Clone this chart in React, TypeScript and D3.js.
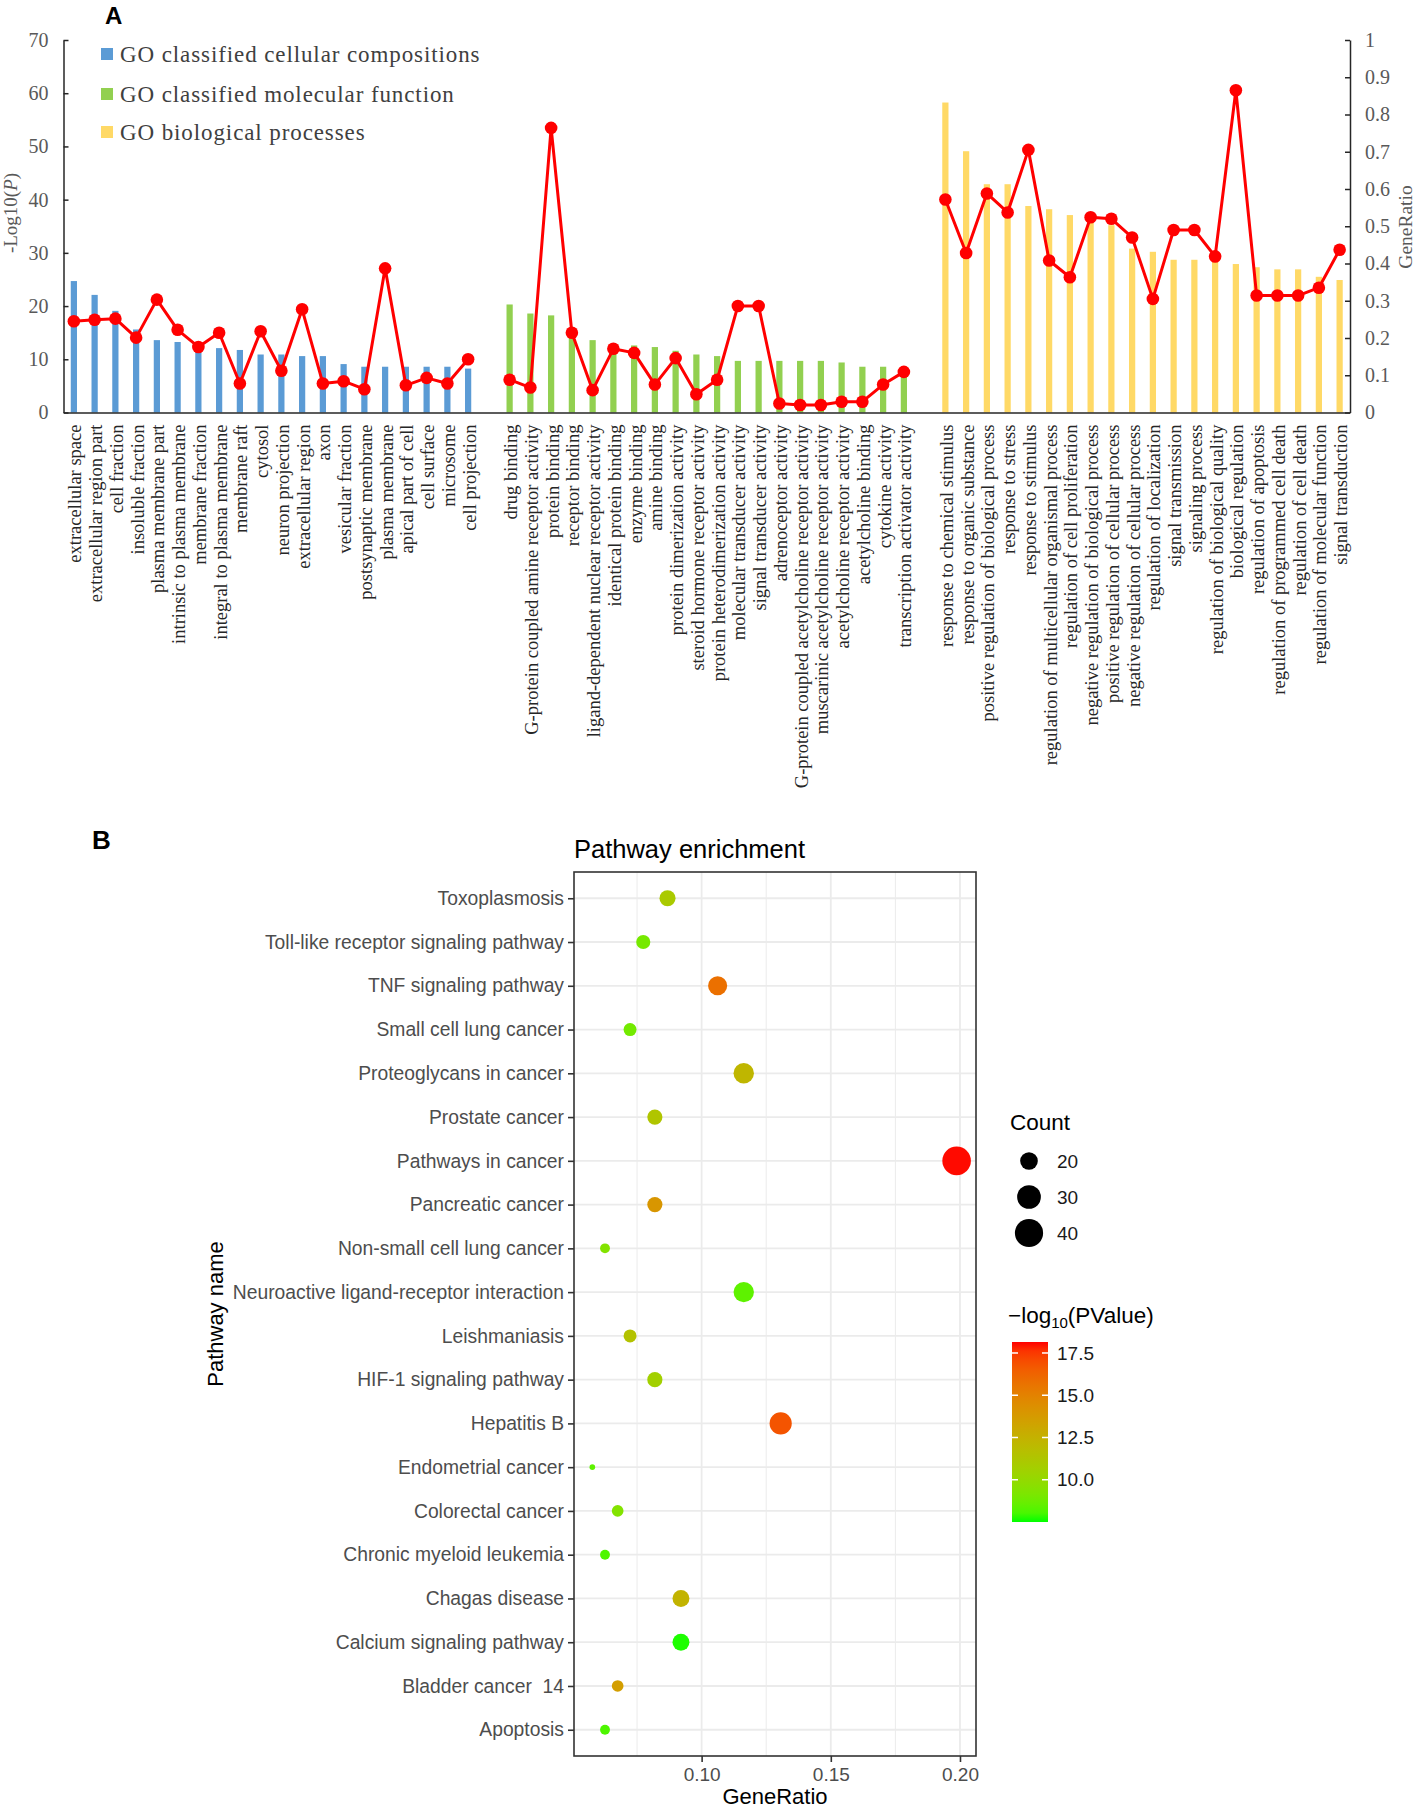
import { useEffect, useRef } from 'react';
import * as d3 from 'd3';

// Panel A: GO classification
const ccTerms = [
  'extracellular space', 'extracellular region part', 'cell fraction', 'insoluble fraction',
  'plasma membrane part', 'intrinsic to plasma membrane', 'membrane fraction',
  'integral to plasma membrane', 'membrane raft', 'cytosol', 'neuron projection',
  'extracellular region', 'axon', 'vesicular fraction', 'postsynaptic membrane',
  'plasma membrane', 'apical part of cell', 'cell surface', 'microsome', 'cell projection',
];
const ccLogP = [24.7, 22.1, 19.1, 15.6, 13.6, 13.25, 12.5, 12.1, 11.75, 10.9, 10.9, 10.6, 10.6, 9.1, 8.6, 8.6, 8.6, 8.6, 8.6, 8.25];
const ccRatio = [0.245, 0.249, 0.252, 0.201, 0.303, 0.222, 0.176, 0.214, 0.078, 0.218, 0.112, 0.277, 0.078, 0.084, 0.0625, 0.387, 0.073, 0.093, 0.078, 0.143];

const mfTerms = [
  'drug binding', 'G-protein coupled amine receptor activity', 'protein binding', 'receptor binding',
  'ligand-dependent nuclear receptor activity', 'identical protein binding', 'enzyme binding',
  'amine binding', 'protein dimerization activity', 'steroid hormone receptor activity',
  'protein heterodimerization activity', 'molecular transducer activity', 'signal transducer activity',
  'adrenoceptor activity', 'G-protein coupled acetylcholine receptor activity',
  'muscarinic acetylcholine receptor activity', 'acetylcholine receptor activity',
  'acetylcholine binding', 'cytokine activity', 'transcription activator activity',
];
const mfLogP = [20.3, 18.6, 18.25, 14.2, 13.6, 12.8, 12.6, 12.3, 11.6, 10.9, 10.6, 9.7, 9.7, 9.7, 9.7, 9.7, 9.4, 8.6, 8.6, 8.0];
const mfRatio = [0.088, 0.067, 0.764, 0.214, 0.06, 0.171, 0.16, 0.075, 0.146, 0.049, 0.088, 0.286, 0.286, 0.024, 0.02, 0.02, 0.029, 0.029, 0.075, 0.109];

const bpTerms = [
  'response to chemical stimulus', 'response to organic substance',
  'positive regulation of biological process', 'response to stress', 'response to stimulus',
  'regulation of multicellular organismal process', 'regulation of cell proliferation',
  'negative regulation of biological process', 'positive regulation of cellular process',
  'negative regulation of cellular process', 'regulation of localization', 'signal transmission',
  'signaling process', 'regulation of biological quality', 'biological regulation',
  'regulation of apoptosis', 'regulation of programmed cell death', 'regulation of cell death',
  'regulation of molecular function', 'signal transduction',
];
const bpLogP = [58.25, 49.1, 42.9, 42.9, 38.8, 38.2, 37.1, 36.2, 35.2, 30.8, 30.2, 28.7, 28.7, 28.8, 27.9, 27.3, 26.9, 26.9, 25.5, 24.9];
const bpRatio = [0.572, 0.428, 0.588, 0.537, 0.705, 0.408, 0.363, 0.524, 0.52, 0.47, 0.305, 0.49, 0.49, 0.419, 0.865, 0.314, 0.314, 0.314, 0.335, 0.437];

const goGroups = [
  { name: 'GO classified cellular compositions', color: '#5b9bd5', terms: ccTerms, logP: ccLogP, ratio: ccRatio },
  { name: 'GO classified molecular function', color: '#92d050', terms: mfTerms, logP: mfLogP, ratio: mfRatio },
  { name: 'GO biological processes', color: '#ffd966', terms: bpTerms, logP: bpLogP, ratio: bpRatio },
];
const leftTicks = [0, 10, 20, 30, 40, 50, 60, 70];
const rightTicks = [0, 0.1, 0.2, 0.3, 0.4, 0.5, 0.6, 0.7, 0.8, 0.9, 1];

// Panel B: KEGG pathway enrichment
const pathways = [
  'Toxoplasmosis', 'Toll-like receptor signaling pathway', 'TNF signaling pathway',
  'Small cell lung cancer', 'Proteoglycans in cancer', 'Prostate cancer', 'Pathways in cancer',
  'Pancreatic cancer', 'Non-small cell lung cancer', 'Neuroactive ligand-receptor interaction',
  'Leishmaniasis', 'HIF-1 signaling pathway', 'Hepatitis B', 'Endometrial cancer',
  'Colorectal cancer', 'Chronic myeloid leukemia', 'Chagas disease', 'Calcium signaling pathway',
  'Bladder cancer  14', 'Apoptosis',
];
const pathRatio = [0.0868, 0.0774, 0.1062, 0.0723, 0.1163, 0.0819, 0.1987, 0.0819, 0.0626, 0.1163, 0.0723, 0.0819, 0.1306, 0.0577, 0.0675, 0.0626, 0.092, 0.092, 0.0675, 0.0626];
const pathCount = [18, 16, 22, 15, 24, 17, 41, 17, 13, 24, 15, 17, 27, 12, 14, 13, 19, 19, 14, 13];
const pathLogP = [11.0, 9.0, 15.8, 8.9, 12.2, 11.3, 18.1, 14.0, 9.4, 8.4, 11.5, 10.6, 16.8, 8.4, 9.4, 8.1, 12.4, 7.6, 13.6, 8.1];
const ratioTicks = [0.1, 0.15, 0.2];
const ratioMinor = [0.075, 0.125, 0.175];
const countLegend = [20, 30, 40];
const pvalTicks = [10, 12.5, 15, 17.5];

const W = 1418;
const H = 1812;
const SERIF = '"Liberation Serif", "Times New Roman", serif';
const SANS = '"Liberation Sans", Arial, sans-serif';

type Slot = { term: string; logP: number; ratio: number; color: string } | null;

function drawGo(g: d3.Selection<SVGGElement, unknown, null, undefined>) {
  const slots: Slot[] = [];
  goGroups.forEach((grp, gi) => {
    if (gi > 0) slots.push(null);
    grp.terms.forEach((t, i) => slots.push({ term: t, logP: grp.logP[i], ratio: grp.ratio[i], color: grp.color }));
  });

  const left = 63.5, right = 1350, top = 40, bottom = 412.5;
  const x = d3.scaleBand<number>()
    .domain(d3.range(slots.length))
    .range([left, right])
    .paddingInner(0.7)
    .paddingOuter(0.35);
  const cx = (i: number) => (x(i) as number) + x.bandwidth() / 2;
  const yL = d3.scaleLinear().domain([0, 70]).range([bottom, top]);
  const yR = d3.scaleLinear().domain([0, 1]).range([bottom, top]);

  g.append('text')
    .attr('x', 105).attr('y', 24)
    .attr('font-family', SANS).attr('font-weight', 'bold').attr('font-size', 24)
    .text('A');

  // bars
  g.append('g').selectAll('rect')
    .data(slots.map((s, i) => ({ s, i })).filter(d => d.s))
    .join('rect')
    .attr('x', d => x(d.i) as number)
    .attr('width', x.bandwidth())
    .attr('y', d => yL(d.s!.logP))
    .attr('height', d => bottom - yL(d.s!.logP))
    .attr('fill', d => d.s!.color);

  // axes
  const axL = g.append('g')
    .attr('transform', `translate(${left},0)`)
    .call(d3.axisLeft(yL).tickValues(leftTicks).tickSizeInner(-5).tickSizeOuter(0).tickPadding(15).tickFormat(d3.format('d')));
  axL.select('.domain').attr('stroke', '#262626').attr('stroke-width', 1.5);
  axL.selectAll('line').attr('stroke', '#262626').attr('stroke-width', 1.5);
  axL.selectAll('text').attr('font-family', SERIF).attr('font-size', 20).attr('fill', '#595959');

  const axR = g.append('g')
    .attr('transform', `translate(${right},0)`)
    .call(d3.axisRight(yR).tickValues(rightTicks).tickSizeInner(-5).tickSizeOuter(0).tickPadding(15).tickFormat(d => d3.format('')(+(+d).toFixed(1))));
  axR.select('.domain').attr('stroke', '#262626').attr('stroke-width', 1.5);
  axR.selectAll('line').attr('stroke', '#262626').attr('stroke-width', 1.5);
  axR.selectAll('text').attr('font-family', SERIF).attr('font-size', 20).attr('fill', '#595959');

  const axB = g.append('g')
    .attr('transform', `translate(0,${bottom})`)
    .call(d3.axisBottom(x).tickValues([]).tickSizeOuter(0));
  axB.select('.domain').attr('stroke', '#262626').attr('stroke-width', 1.5);

  // category labels
  g.append('g').selectAll('text')
    .data(slots.map((s, i) => ({ s, i })).filter(d => d.s))
    .join('text')
    .attr('transform', d => `translate(${cx(d.i) + 1},${bottom + 12}) rotate(-90)`)
    .attr('text-anchor', 'end')
    .attr('dy', '0.35em')
    .attr('font-family', SERIF)
    .attr('font-size', 18.5)
    .attr('fill', '#262626')
    .text(d => d.s!.term);

  // axis titles
  const lt = g.append('text')
    .attr('transform', `translate(17,213) rotate(-90)`)
    .attr('text-anchor', 'middle')
    .attr('font-family', SERIF).attr('font-size', 19).attr('fill', '#595959');
  lt.append('tspan').text('-Log10(');
  lt.append('tspan').attr('font-style', 'italic').text('P');
  lt.append('tspan').text(')');

  g.append('text')
    .attr('transform', `translate(1412,227) rotate(-90)`)
    .attr('text-anchor', 'middle')
    .attr('font-family', SERIF).attr('font-size', 19.5).attr('fill', '#595959')
    .text('GeneRatio');

  // red GeneRatio line
  const line = d3.line<Slot>()
    .defined(d => d !== null)
    .x((_, i) => cx(i))
    .y(d => yR(d!.ratio));
  g.append('path')
    .datum(slots)
    .attr('fill', 'none')
    .attr('stroke', '#ff0000')
    .attr('stroke-width', 3)
    .attr('stroke-linejoin', 'round')
    .attr('d', line);
  g.append('g').selectAll('circle')
    .data(slots.map((s, i) => ({ s, i })).filter(d => d.s))
    .join('circle')
    .attr('cx', d => cx(d.i))
    .attr('cy', d => yR(d.s!.ratio))
    .attr('r', 6.3)
    .attr('fill', '#ff0000');

  // legend
  const lg = g.append('g').selectAll('g')
    .data(goGroups)
    .join('g')
    .attr('transform', (_, i) => `translate(101,${[54, 94, 132][i]})`);
  lg.append('rect').attr('x', 0).attr('y', -6).attr('width', 12).attr('height', 12).attr('fill', d => d.color);
  lg.append('text')
    .attr('x', 19).attr('dy', '0.35em')
    .attr('font-family', SERIF).attr('font-size', 23).attr('fill', '#404040')
    .attr('letter-spacing', 0.9)
    .text(d => d.name);
}

function drawPathways(g: d3.Selection<SVGGElement, unknown, null, undefined>) {
  const left = 574, right = 976, top = 872, bottom = 1756;
  const x = d3.scaleLinear().domain([0.0506, 0.2062]).range([left, right]);
  const y = d3.scalePoint<string>().domain(pathways).range([top, bottom]).padding(0.6);
  const pMin = 7.5, pMax = 18.15;
  const color = d3.scaleLinear<string>().domain([pMin, pMax]).range(['#00ff00', '#ff0000']).interpolate(d3.interpolateLab);
  const cMin = d3.min(pathCount) as number, cMax = d3.max(pathCount) as number;
  const sizeNorm = d3.scaleLinear().domain([cMin, cMax]).range([0, 1]);
  const radius = d3.scaleLinear().domain([0, 1]).range([2.8, 14.3]);
  const r = (c: number) => radius(Math.sqrt(Math.max(0, sizeNorm(c))));

  g.append('text')
    .attr('x', 92).attr('y', 849)
    .attr('font-family', SANS).attr('font-weight', 'bold').attr('font-size', 26)
    .text('B');

  g.append('text')
    .attr('x', left).attr('y', 858)
    .attr('font-family', SANS).attr('font-size', 25.5).attr('fill', '#000')
    .text('Pathway enrichment');

  // grid
  g.append('g').selectAll('line')
    .data(ratioMinor)
    .join('line')
    .attr('x1', d => x(d)).attr('x2', d => x(d))
    .attr('y1', top).attr('y2', bottom)
    .attr('stroke', '#ebebeb').attr('stroke-width', 1);
  g.append('g').selectAll('line')
    .data(ratioTicks)
    .join('line')
    .attr('x1', d => x(d)).attr('x2', d => x(d))
    .attr('y1', top).attr('y2', bottom)
    .attr('stroke', '#ebebeb').attr('stroke-width', 1.8);
  g.append('g').selectAll('line')
    .data(pathways)
    .join('line')
    .attr('x1', left).attr('x2', right)
    .attr('y1', d => y(d) as number).attr('y2', d => y(d) as number)
    .attr('stroke', '#ebebeb').attr('stroke-width', 1.8);

  const pts = pathways.map((p, i) => ({ p, ratio: pathRatio[i], count: pathCount[i], logP: pathLogP[i] }));
  g.append('g').selectAll('circle')
    .data(pts)
    .join('circle')
    .attr('cx', d => x(d.ratio))
    .attr('cy', d => y(d.p) as number)
    .attr('r', d => r(d.count))
    .attr('fill', d => color(d.logP));

  // frame
  g.append('rect')
    .attr('x', left).attr('y', top)
    .attr('width', right - left).attr('height', bottom - top)
    .attr('fill', 'none').attr('stroke', '#333333').attr('stroke-width', 1.6);

  // axes
  const axY = g.append('g')
    .attr('transform', `translate(${left},0)`)
    .call(d3.axisLeft(y).tickSize(6).tickPadding(4));
  axY.select('.domain').remove();
  axY.selectAll('line').attr('stroke', '#333333').attr('stroke-width', 1.6);
  axY.selectAll('text')
    .attr('font-family', SANS).attr('font-size', 19.3).attr('fill', '#4d4d4d')
    .style('white-space', 'pre');

  const axX = g.append('g')
    .attr('transform', `translate(0,${bottom})`)
    .call(d3.axisBottom(x).tickValues(ratioTicks).tickSize(6).tickPadding(6).tickFormat(d3.format('.2f')));
  axX.select('.domain').remove();
  axX.selectAll('line').attr('stroke', '#333333').attr('stroke-width', 1.6);
  axX.selectAll('text').attr('font-family', SANS).attr('font-size', 19).attr('fill', '#4d4d4d');

  g.append('text')
    .attr('x', (left + right) / 2).attr('y', 1804)
    .attr('text-anchor', 'middle')
    .attr('font-family', SANS).attr('font-size', 22).attr('fill', '#000')
    .text('GeneRatio');
  g.append('text')
    .attr('transform', `translate(223,${(top + bottom) / 2}) rotate(-90)`)
    .attr('text-anchor', 'middle')
    .attr('font-family', SANS).attr('font-size', 22).attr('fill', '#000')
    .text('Pathway name');

  // size legend
  g.append('text')
    .attr('x', 1010).attr('y', 1130)
    .attr('font-family', SANS).attr('font-size', 22.5).attr('fill', '#000')
    .text('Count');
  const sl = g.append('g').selectAll('g')
    .data(countLegend)
    .join('g')
    .attr('transform', (_, i) => `translate(1029,${1161 + i * 36})`);
  sl.append('circle').attr('r', d => r(d)).attr('fill', '#000');
  sl.append('text')
    .attr('x', 28).attr('dy', '0.35em')
    .attr('font-family', SANS).attr('font-size', 19).attr('fill', '#1a1a1a')
    .text(d => d);

  // colour legend
  const ct = g.append('text')
    .attr('x', 1008).attr('y', 1323)
    .attr('font-family', SANS).attr('font-size', 22.5).attr('fill', '#000');
  ct.append('tspan').text('\u2212log');
  ct.append('tspan').attr('font-size', 15).attr('dy', 5).text('10');
  ct.append('tspan').attr('dy', -5).text('(PValue)');

  const barTop = 1342, barBottom = 1522, barX = 1012, barW = 36;
  const cy = d3.scaleLinear().domain([pMin, pMax]).range([barBottom, barTop]);
  const grad = g.append('defs').append('linearGradient')
    .attr('id', 'pgrad').attr('x1', 0).attr('y1', 1).attr('x2', 0).attr('y2', 0);
  grad.selectAll('stop')
    .data(d3.range(0, 1.0001, 0.05))
    .join('stop')
    .attr('offset', d => d)
    .attr('stop-color', d => color(pMin + d * (pMax - pMin)));
  g.append('rect')
    .attr('x', barX).attr('y', barTop).attr('width', barW).attr('height', barBottom - barTop)
    .attr('fill', 'url(#pgrad)');
  const tk = g.append('g').selectAll('g')
    .data(pvalTicks)
    .join('g')
    .attr('transform', d => `translate(0,${cy(d)})`);
  tk.append('line').attr('x1', barX).attr('x2', barX + 6).attr('stroke', '#fff').attr('stroke-width', 1.5);
  tk.append('line').attr('x1', barX + barW - 6).attr('x2', barX + barW).attr('stroke', '#fff').attr('stroke-width', 1.5);
  tk.append('text')
    .attr('x', 1057).attr('dy', '0.35em')
    .attr('font-family', SANS).attr('font-size', 19).attr('fill', '#1a1a1a')
    .text(d => d3.format('.1f')(d));
}

export default function App() {
  const svgRef = useRef<SVGSVGElement>(null);

  useEffect(() => {
    if (!svgRef.current) return;
    const svg = d3.select(svgRef.current);
    svg.selectAll('*').remove();
    drawGo(svg.append('g'));
    drawPathways(svg.append('g'));
  }, []);

  return (
    <div style={{ position: 'absolute', left: 0, top: 0 }}>
      <svg ref={svgRef} width={W} height={H} style={{ display: 'block', background: '#ffffff' }} />
    </div>
  );
}
